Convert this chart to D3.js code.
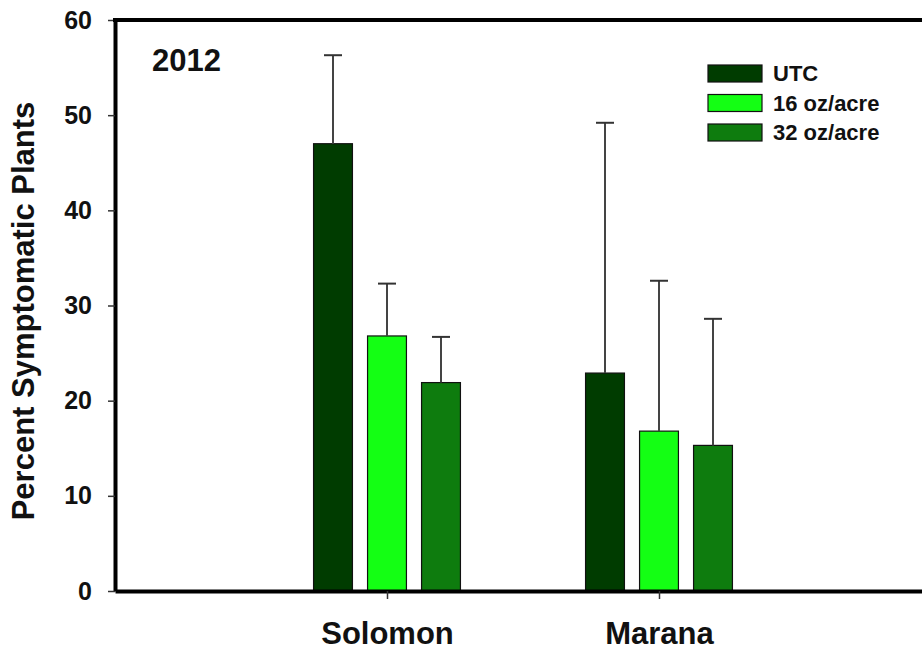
<!DOCTYPE html>
<html>
<head>
<meta charset="utf-8">
<script src="https://cdn.jsdelivr.net/npm/d3@7"></script>
<style>
    body { margin: 0; background: #fff; }
    text { font-family: "Liberation Sans", Arial, sans-serif; font-weight: bold; fill: #111; }
</style>
</head>
<body>
<svg id="drawing_region"></svg>
<script>
// sites on the x axis, treatments inside each site
const sites = ['Solomon', 'Marana'];
const treatments = ['UTC', '16 oz/acre', '32 oz/acre'];
const colors = ['#003c00', '#14ff14', '#0e7c0e'];

// mean percent symptomatic plants, per site, in treatment order
const means = {
    'Solomon': [47.0, 26.8, 21.9],
    'Marana': [22.9, 16.8, 15.3]
};
// top of the error bar (mean + error)
const upper = {
    'Solomon': [56.3, 32.3, 26.7],
    'Marana': [49.2, 32.6, 28.6]
};
const yticks = [0, 10, 20, 30, 40, 50, 60];

const data = [];
sites.forEach(s => {
    treatments.forEach((t, i) => {
        data.push({ site: s, treatment: t, value: means[s][i], upper: upper[s][i], color: colors[i] });
    });
});

var config = {
    parent: '#drawing_region',
    width: 922,
    height: 650,
    margin: { top: 20, right: 0, bottom: 59, left: 115 }
};

class BarChart {

    constructor(config, data) {
        this.config = config;
        this.data = data;
        this.init();
    }

    init() {
        let self = this;

        self.svg = d3.select(self.config.parent)
            .attr('width', self.config.width)
            .attr('height', self.config.height);

        self.chart = self.svg.append('g')
            .attr('transform', `translate(${self.config.margin.left}, ${self.config.margin.top})`);

        self.inner_width = self.config.width - self.config.margin.left - self.config.margin.right;
        self.inner_height = self.config.height - self.config.margin.top - self.config.margin.bottom;

        // the axis runs past the right edge of the picture
        self.xscale = d3.scalePoint()
            .domain(sites)
            .range([0, 816])
            .padding(1);

        self.subscale = d3.scaleBand()
            .domain(treatments)
            .range([-81, 81])
            .paddingInner(0.28)
            .paddingOuter(0.14);

        self.yscale = d3.scaleLinear()
            .domain([0, 60])
            .range([self.inner_height, 0]);

        self.xaxis = d3.axisBottom(self.xscale)
            .tickSize(8)
            .tickSizeOuter(0)
            .tickPadding(23);

        self.yaxis = d3.axisLeft(self.yscale)
            .tickValues(yticks)
            .tickSize(7)
            .tickSizeOuter(0)
            .tickPadding(16);
    }

    render() {
        let self = this;

        // bars
        self.chart.selectAll('rect.bar')
            .data(self.data)
            .join('rect')
            .attr('class', 'bar')
            .attr('x', d => self.xscale(d.site) + self.subscale(d.treatment))
            .attr('y', d => self.yscale(d.value))
            .attr('width', self.subscale.bandwidth())
            .attr('height', d => self.inner_height - self.yscale(d.value))
            .attr('fill', d => d.color)
            .attr('stroke', '#111')
            .attr('stroke-width', 1.2);

        // error bars
        const cx = d => self.xscale(d.site) + self.subscale(d.treatment) + self.subscale.bandwidth() / 2;
        self.chart.selectAll('line.err')
            .data(self.data)
            .join('line')
            .attr('class', 'err')
            .attr('x1', cx).attr('x2', cx)
            .attr('y1', d => self.yscale(d.value))
            .attr('y2', d => self.yscale(d.upper))
            .attr('stroke', '#444')
            .attr('stroke-width', 2);
        self.chart.selectAll('line.cap')
            .data(self.data)
            .join('line')
            .attr('class', 'cap')
            .attr('x1', d => cx(d) - 9).attr('x2', d => cx(d) + 9)
            .attr('y1', d => self.yscale(d.upper))
            .attr('y2', d => self.yscale(d.upper))
            .attr('stroke', '#333')
            .attr('stroke-width', 2);

        // axes
        const xg = self.chart.append('g')
            .attr('transform', `translate(0, ${self.inner_height})`)
            .call(self.xaxis);
        xg.select('.domain').attr('stroke', '#000').attr('stroke-width', 4);
        xg.selectAll('.tick line').attr('stroke', '#333').attr('stroke-width', 1.5);
        xg.selectAll('text').attr('font-size', 31).attr('fill', '#111');

        const yg = self.chart.append('g')
            .call(self.yaxis);
        yg.select('.domain').attr('stroke', '#000').attr('stroke-width', 4);
        yg.selectAll('.tick line').attr('stroke', '#333').attr('stroke-width', 1.5);
        yg.selectAll('text').attr('font-size', 25).attr('fill', '#111');

        // top frame line
        self.chart.append('line')
            .attr('x1', -2).attr('x2', self.inner_width)
            .attr('y1', 0).attr('y2', 0)
            .attr('stroke', '#000')
            .attr('stroke-width', 4);

        // y title
        self.svg.append('text')
            .attr('transform', `translate(34, 311) rotate(-90)`)
            .attr('text-anchor', 'middle')
            .attr('font-size', 31)
            .text('Percent Symptomatic Plants');

        // year label
        self.chart.append('text')
            .attr('x', 37)
            .attr('y', 51)
            .attr('font-size', 31)
            .text('2012');

        // legend
        const legend = self.chart.append('g')
            .attr('transform', 'translate(593, 45)');
        const item = legend.selectAll('g')
            .data(treatments)
            .join('g')
            .attr('transform', (d, i) => `translate(0, ${i * 29.5})`);
        item.append('rect')
            .attr('width', 54)
            .attr('height', 17)
            .attr('fill', (d, i) => colors[i])
            .attr('stroke', '#111')
            .attr('stroke-width', 1.2);
        item.append('text')
            .attr('x', 65)
            .attr('y', 16)
            .attr('font-size', 22)
            .text(d => d);
    }
}

const bar_chart = new BarChart(config, data);
bar_chart.render();
</script>
</body>
</html>
